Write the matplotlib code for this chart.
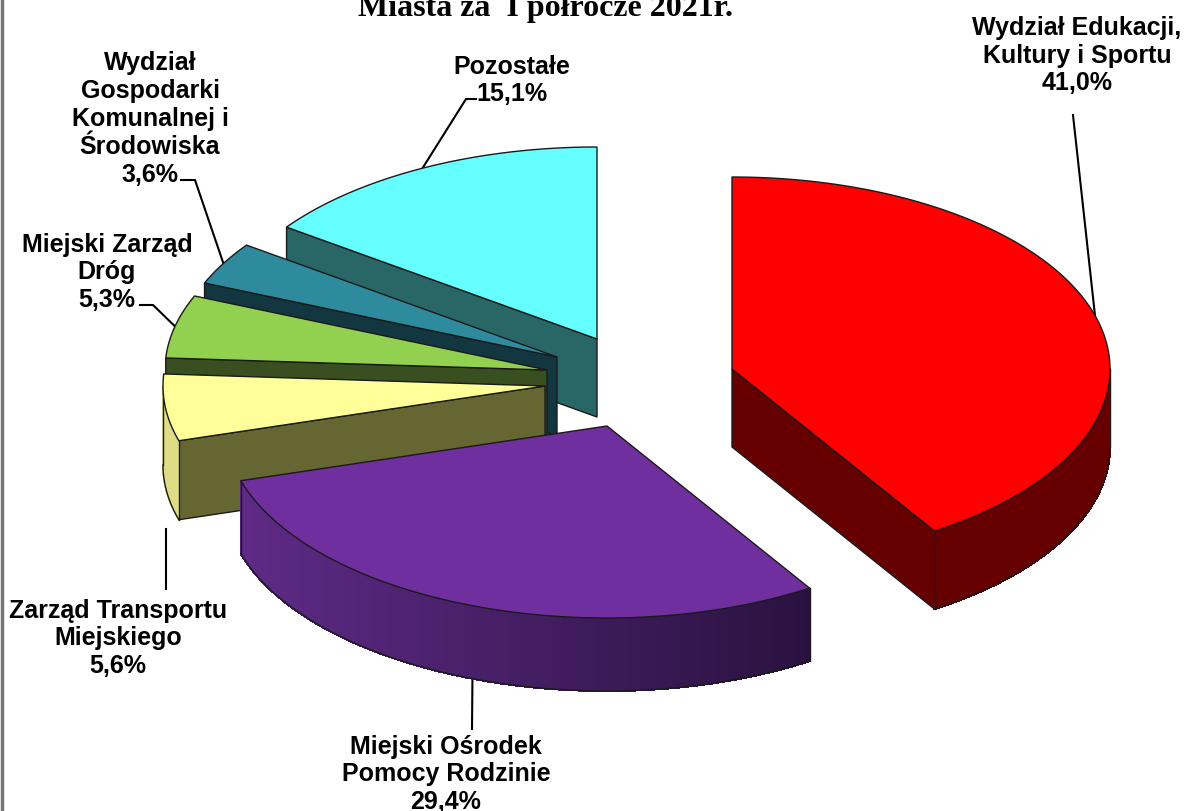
#!/usr/bin/env python3
"""
Exploded 3D-look pie of budget shares by department
"""
import matplotlib
matplotlib.use('Agg')
import matplotlib.pyplot as plt
import matplotlib.colors as mcolors
import numpy as np

plt.rcParams['font.family'] = ['Liberation Sans', 'DejaVu Sans']

# Data
labels = ['Wydział Edukacji,\nKultury i Sportu', 'Miejski Ośrodek\nPomocy Rodzinie',
          'Zarząd Transportu\nMiejskiego', 'Miejski Zarząd\nDróg',
          'Wydział\nGospodarki\nKomunalnej i\nŚrodowiska', 'Pozostałe']
shares = [41.0, 29.4, 5.6, 5.3, 3.6, 15.1]

# Where each slice's apex ended up after exploding it (pixels)
apex_x = [732, 607, 545, 547, 557, 597]
apex_y = [370, 427, 387, 371, 358, 340]
depths = [78, 73, 79, 78, 78, 78]

top_colors = ['#ff0000', '#6f2f9f', '#ffff99', '#92d050', '#2e8b9e', '#66ffff']
face_colors = ['#660000', '#2d1340', '#666633', '#3a4f1f', '#123740', '#296666']
# outer wall shade, left end and right end
wall_left = ['#660000', '#5e2a86', '#dedc85', '#3a4f1f', '#123740', '#296666']
wall_right = ['#660000', '#2a1240', '#dedc85', '#3a4f1f', '#123740', '#296666']

label_x = [1077, 446, 118, 107, 150, 512]
label_y = [55.5, 774.5, 638.5, 272.5, 119, 80.5]
# leader line elbows, next to each label
elbow_x = [[1073], [472], [166, 166], [140, 153], [181, 195], [476, 466]]
elbow_y = [[116], [730], [590, 530], [306, 306], [181, 181], [100, 100]]
# the transport leader stops short of the slice
reaches_rim = [True, True, False, True, True, True]

RX_RIGHT, RX_LEFT, RY = 378, 382, 192
EDGE = '#1a1a1a'


def rim(cx, cy, a0, a1):
    # points on the ellipse, angles clockwise from 12 o'clock in degrees
    t = np.radians(np.linspace(a0, a1, max(int(abs(a1 - a0) * 2), 2)))
    s = np.sin(t)
    return cx + np.where(s < 0, RX_LEFT, RX_RIGHT) * s, cy - RY * np.cos(t)


fig = plt.figure(figsize=(11.84, 8.12), dpi=100)
ax = fig.add_axes([0, 0, 1, 1])
ax.set_xlim(0, 1184)
ax.set_ylim(812, 0)
ax.axis('off')

ax.text(545, 16, 'Miasta za  I półrocze 2021r.', family=['Liberation Serif'],
        fontsize=23, fontweight='bold', ha='center', va='baseline')
ax.plot([2, 2], [0, 812], color='#777777', lw=2.5, zorder=0)

ends = np.cumsum(shares) / sum(shares) * 360
starts = np.concatenate([[0], ends[:-1]])

# Painter's order: back slices first, red and purple last
for i in [5, 4, 3, 2, 1, 0]:
    cx, cy, depth = apex_x[i], apex_y[i], depths[i]
    a0, a1 = starts[i], ends[i]
    z = 2 + (5 - i)

    # leader line goes under the slice
    mid = (a0 + a1) / 2
    mx, my = rim(cx, cy, mid, mid)
    lx, ly = list(elbow_x[i]), list(elbow_y[i])
    if reaches_rim[i]:
        lx.append(mx[0])
        ly.append(my[0])
    ax.plot(lx, ly, color='black', lw=1.5, zorder=1)

    # cut faces
    for ang, seen in [(a0, 180 < a0 < 360), (a1, 0 < a1 < 180)]:
        if seen:
            ex, ey = rim(cx, cy, ang, ang)
            ax.fill([cx, ex[0], ex[0], cx], [cy, ey[0], ey[0] + depth, cy + depth],
                    facecolor=face_colors[i], edgecolor=EDGE, lw=1, zorder=z)

    # outer wall, only the front half of the rim shows
    w0, w1 = max(a0, 90), min(a1, 270)
    if w0 < w1:
        xs, ys = rim(cx, cy, w0, w1)
        cl = np.array(mcolors.to_rgb(wall_left[i]))
        cr = np.array(mcolors.to_rgb(wall_right[i]))
        for k in range(len(xs) - 1):
            f = (xs[k] - xs.min()) / (xs.max() - xs.min())
            c = cl + (cr - cl) * f
            ax.fill([xs[k], xs[k + 1], xs[k + 1], xs[k]],
                    [ys[k], ys[k + 1], ys[k + 1] + depth, ys[k] + depth],
                    facecolor=c, edgecolor=c, lw=0.8, antialiased=False, zorder=z)
        ax.plot(xs, ys + depth, color=EDGE, lw=1, zorder=z)
        ax.plot([xs[0], xs[0]], [ys[0], ys[0] + depth], color=EDGE, lw=1, zorder=z)
        ax.plot([xs[-1], xs[-1]], [ys[-1], ys[-1] + depth], color=EDGE, lw=1, zorder=z)

    # top surface
    xs, ys = rim(cx, cy, a0, a1)
    ax.fill(np.r_[cx, xs], np.r_[cy, ys], facecolor=top_colors[i],
            edgecolor=EDGE, lw=1, zorder=z)

for i, name in enumerate(labels):
    ax.text(label_x[i], label_y[i], f'{name}\n{shares[i]:.1f}%'.replace('.', ','),
            fontsize=18, fontweight='bold', ha='center', va='center',
            linespacing=1.2, zorder=20)

plt.savefig('out.png', dpi=100)
